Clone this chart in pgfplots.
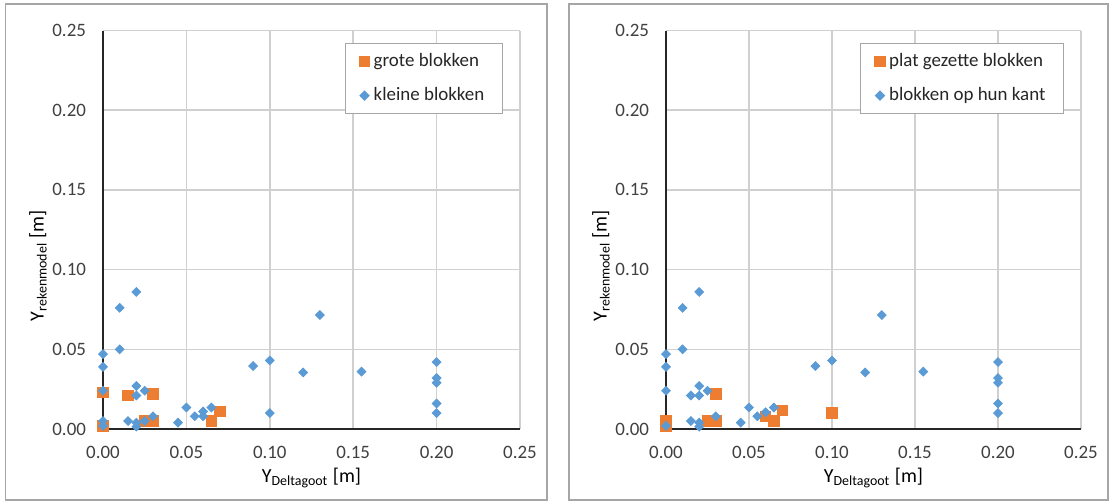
\documentclass[border=0pt]{standalone}
\usepackage{fontspec}
\setmainfont{Carlito}
\usepackage{pgfplots}
\pgfplotsset{compat=1.18}
\definecolor{xlorange}{HTML}{ED7D31}
\definecolor{xlblue}{HTML}{5B9BD5}
\definecolor{xlgrid}{HTML}{D0D0D0}
\definecolor{xltext}{HTML}{404040}
\definecolor{xlframe}{HTML}{A6A6A6}

\pgfplotsset{
  xlchart/.style={
    scale only axis, height=199.25bp,
    xmin=0, xmax=0.25, ymin=0, ymax=0.25,
    xtick={0,0.05,...,0.25}, ytick={0,0.05,...,0.25},
    axis lines=left, axis line style={-, black!85, line width=1bp},
    grid=major, grid style={xlgrid, line width=0.8bp},
    major tick length=0pt, clip=false,
    tick label style={font=\fontsize{9.5}{11}\selectfont, text=xltext},
    /pgf/number format/.cd, fixed, fixed zerofill, precision=2, assume math mode=true, /pgfplots/.cd,
    scaled ticks=false,
    yticklabel style={xshift=-5bp},
    xticklabel style={yshift=-5bp},
    label style={font=\fontsize{10}{12}\selectfont, text=xltext},
    every axis x label/.style={at={(rel axis cs:0.5,0)}, yshift=-24.5bp, anchor=center},
    every axis y label/.style={at={(rel axis cs:0,0.41)}, xshift=-32.5bp, rotate=90, anchor=center},
    xlabel={Y\textsubscript{Deltagoot} [m]},
    ylabel={Y\textsubscript{rekenmodel} [m]},
    legend cell align=left,
    legend style={at={(rel axis cs:0.959,0.969)}, anchor=north east,
      draw=xlframe, line width=0.6bp, font=\fontsize{9.5}{11}\selectfont,
      text=black!85, row sep=5bp, inner xsep=7bp, inner ysep=3bp},
  },
  bigsq/.style={only marks, mark=square*, mark size=2.6bp, color=xlorange},
  smdia/.style={only marks, mark=square*, mark size=1.55bp, color=xlblue, mark options={rotate=45}},
}

\begin{document}
\begin{tikzpicture}
\useasboundingbox (0,0) rectangle (556bp,-252bp);
\draw[xlframe, line width=0.6bp] (2.75bp,-2bp) rectangle (273.5bp,-250bp);
\draw[xlframe, line width=0.6bp] (284.5bp,-2bp) rectangle (554bp,-250bp);

\begin{axis}[xlchart, width=208.5bp, at={(51.5bp,-214.5bp)}, anchor=south west]
\addplot[bigsq] coordinates {
  (0,0.023) (0,0.002) (0.015,0.021) (0.030,0.022) (0.025,0.005)
  (0.030,0.005) (0.070,0.011) (0.065,0.005)};
\addlegendentry{grote blokken}
\addplot[smdia] coordinates {
  (0,0.047) (0,0.039) (0,0.024) (0,0.005) (0,0.002)
  (0.01,0.076) (0.01,0.050) (0.015,0.005)
  (0.02,0.086) (0.02,0.027) (0.02,0.021) (0.02,0.004) (0.02,0.0015)
  (0.025,0.024) (0.025,0.005) (0.03,0.008) (0.045,0.004)
  (0.05,0.0135) (0.055,0.008) (0.06,0.011) (0.06,0.008) (0.065,0.0135)
  (0.09,0.0395) (0.10,0.043) (0.10,0.010)
  (0.12,0.0355) (0.13,0.0715) (0.155,0.036)
  (0.20,0.042) (0.20,0.032) (0.20,0.029) (0.20,0.016) (0.20,0.010)};
\addlegendentry{kleine blokken}
\end{axis}

\begin{axis}[xlchart, width=207.5bp, at={(333bp,-214.5bp)}, anchor=south west]
\addplot[bigsq] coordinates {
  (0,0.005) (0,0.002) (0.030,0.022) (0.025,0.005) (0.030,0.005)
  (0.070,0.0115) (0.060,0.008) (0.065,0.005) (0.10,0.010)};
\addlegendentry{plat gezette blokken}
\addplot[smdia] coordinates {
  (0,0.047) (0,0.039) (0,0.024) (0,0.002)
  (0.01,0.076) (0.01,0.050) (0.015,0.021) (0.015,0.005)
  (0.02,0.086) (0.02,0.027) (0.02,0.021) (0.02,0.004) (0.02,0.0015)
  (0.025,0.024) (0.03,0.008) (0.045,0.004)
  (0.05,0.0135) (0.055,0.008) (0.06,0.0105) (0.065,0.0135)
  (0.09,0.0395) (0.10,0.043)
  (0.12,0.0355) (0.13,0.0715) (0.155,0.036)
  (0.20,0.042) (0.20,0.032) (0.20,0.029) (0.20,0.016) (0.20,0.010)};
\addlegendentry{blokken op hun kant}
\end{axis}
\end{tikzpicture}
\end{document}
